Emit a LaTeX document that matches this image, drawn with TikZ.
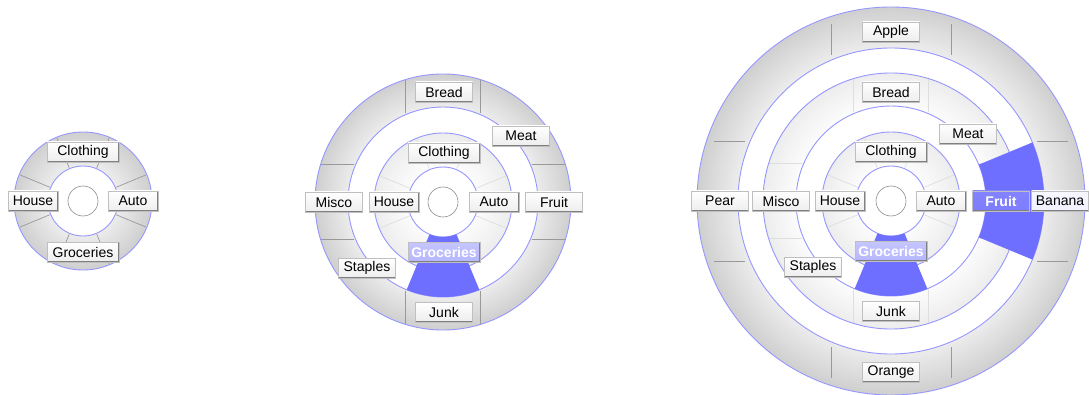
\documentclass[tikz,border=0pt]{standalone}
\usepackage{fontspec}
\setmainfont{Liberation Sans}
\usetikzlibrary{calc}

\definecolor{ringline}{RGB}{150,150,255}
\definecolor{hlblue}{RGB}{110,110,255}

% shaded ring: centre, inner r, outer r, inner gray %, outer gray %
\newcommand{\fillring}[5]{%
  \foreach \k in {0,...,20}{%
    \pgfmathsetmacro{\rr}{#3-(#3-#2)*\k/20}%
    \pgfmathsetmacro{\pp}{#5-(#5-#4)*\k/20}%
    \fill[gray!\pp] (#1) circle (\rr);
  }%
  \fill[white] (#1) circle (#2);
}
% axis parallel dividers: centre, offset, r from, r to, style
\newcommand{\gridticks}[5]{%
  \foreach \s in {-1,1}{\foreach \t in {-1,1}{%
    \draw[#5] ($(#1)+(\s*#2,\t*#3)$) -- ($(#1)+(\s*#2,\t*#4)$);
    \draw[#5] ($(#1)+(\t*#3,\s*#2)$) -- ($(#1)+(\t*#4,\s*#2)$);
  }}%
}

\begin{document}
\begin{tikzpicture}[x=1pt,y=1pt,
  lbl/.style={draw=black!25, line width=0.6pt, top color=white, bottom color=black!7,
    minimum width=57, minimum height=20, inner sep=0pt, font=\fontsize{14}{16}\selectfont,
    path picture={\draw[black!50, line width=2pt]
      (path picture bounding box.south west) -- (path picture bounding box.south east)
      -- (path picture bounding box.north east);}},
  hlbox/.style={lbl, top color=hlblue!40, bottom color=hlblue!50, text=white,
    font=\fontsize{14}{16}\selectfont\bfseries},
  tickdark/.style={black!40, line width=0.7pt},
  ticklight/.style={black!13, line width=0.7pt},
  edge/.style={ringline, line width=0.9pt},
  hub/.style={draw=black!45, fill=white, line width=0.6pt}]
\useasboundingbox (0,0) rectangle (1089,394);
\coordinate (c1) at (83,193);
\coordinate (c2) at (443,192);
\coordinate (c3) at (891,193);

% one level
\fillring{c1}{35}{69}{14}{37}
\foreach \a in {22.5,67.5,...,337.5}
  \draw[tickdark] ($(c1)+(\a:36)$) -- ($(c1)+(\a:68)$);
\draw[edge] (c1) circle (35) (c1) circle (69);
\draw[hub] (c1) circle (15);
\node[lbl, minimum width=72] (clothing1) at ($(c1)+(0,49)$) {Clothing};
\node[lbl, minimum width=50] (auto1) at ($(c1)+(50,0)$) {Auto};
\node[lbl, minimum width=50] (house1) at ($(c1)+(-50,0)$) {House};
\node[lbl, minimum width=72] (groceries1) at ($(c1)+(0,-51)$) {Groceries};

% two levels
\fillring{c2}{95}{128}{14}{37}
\fillring{c2}{35}{69}{2}{14}
\foreach \a in {22.5,67.5,...,337.5}
  \draw[ticklight] ($(c2)+(\a:36)$) -- ($(c2)+(\a:68)$);
\gridticks{c2}{37.5}{89}{122}{tickdark}
\draw[edge] (c2) circle (35) (c2) circle (69) (c2) circle (95) (c2) circle (128);
\fill[hlblue] ($(c2)+(247.5:35)$) arc[start angle=247.5, end angle=292.5, radius=35]
  -- ($(c2)+(292.5:95)$) arc[start angle=292.5, end angle=247.5, radius=95] -- cycle;
\draw[hub] (c2) circle (15);
\node[lbl, minimum width=72] (clothing2) at ($(c2)+(1,49)$) {Clothing};
\node[lbl, minimum width=50] (auto2) at ($(c2)+(51,0)$) {Auto};
\node[lbl, minimum width=50] (house2) at ($(c2)+(-49,0)$) {House};
\node[hlbox, minimum width=72] (groceries2) at ($(c2)+(1,-50)$) {Groceries};
\node[lbl] (bread2) at ($(c2)+(1,110)$) {Bread};
\node[lbl] (meat2) at ($(c2)+(78,66)$) {Meat};
\node[lbl] (fruit2) at ($(c2)+(111,0)$) {Fruit};
\node[lbl] (junk2) at ($(c2)+(1,-110)$) {Junk};
\node[lbl] (misco2) at ($(c2)+(-109,0)$) {Misco};
\node[lbl] (staples2) at ($(c2)+(-76,-66)$) {Staples};

% three levels
\fillring{c3}{153}{194}{14}{37}
\fillring{c3}{95}{128}{2}{14}
\fillring{c3}{35}{69}{2}{14}
\foreach \a in {22.5,67.5,...,337.5}
  \draw[ticklight] ($(c3)+(\a:36)$) -- ($(c3)+(\a:68)$);
\gridticks{c3}{37.5}{89}{122}{ticklight}
\gridticks{c3}{60}{146}{177}{tickdark}
\draw[edge] (c3) circle (35) (c3) circle (69) (c3) circle (95) (c3) circle (128)
  (c3) circle (153) (c3) circle (194);
\fill[hlblue] ($(c3)+(247.5:35)$) arc[start angle=247.5, end angle=292.5, radius=35]
  -- ($(c3)+(292.5:95)$) arc[start angle=292.5, end angle=247.5, radius=95] -- cycle;
\fill[hlblue] ($(c3)+(-22.5:95)$) arc[start angle=-22.5, end angle=22.5, radius=95]
  -- ($(c3)+(22.5:153)$) arc[start angle=22.5, end angle=-22.5, radius=153] -- cycle;
\draw[hub] (c3) circle (15);
\node[lbl, minimum width=72] (clothing3) at ($(c3)+(0,49)$) {Clothing};
\node[lbl, minimum width=50] (auto3) at ($(c3)+(50,0)$) {Auto};
\node[lbl, minimum width=50] (house3) at ($(c3)+(-51,0)$) {House};
\node[hlbox, minimum width=72] (groceries3) at ($(c3)+(0,-50)$) {Groceries};
\node[lbl] (bread3) at ($(c3)+(0,109)$) {Bread};
\node[lbl] (meat3) at ($(c3)+(77,67)$) {Meat};
\node[hlbox, top color=hlblue!85, bottom color=hlblue!90] (fruit3) at ($(c3)+(110,0)$) {Fruit};
\node[lbl] (junk3) at ($(c3)+(0,-110)$) {Junk};
\node[lbl] (misco3) at ($(c3)+(-110,0)$) {Misco};
\node[lbl] (staples3) at ($(c3)+(-78,-66)$) {Staples};
\node[lbl] (apple3) at ($(c3)+(0,169)$) {Apple};
\node[lbl] (pear3) at ($(c3)+(-171,0)$) {Pear};
\node[lbl, top color=hlblue!5, bottom color=hlblue!10] (banana3) at ($(c3)+(169,0)$) {Banana};
\node[lbl] (orange3) at ($(c3)+(0,-171)$) {Orange};
\end{tikzpicture}
\end{document}
